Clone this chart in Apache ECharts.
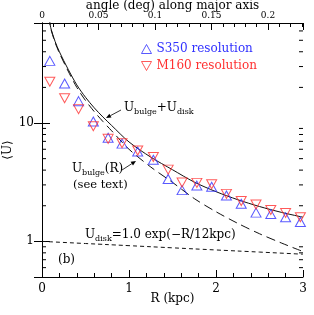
<!DOCTYPE html>
<html><head><meta charset="utf-8">
<script src="https://cdn.jsdelivr.net/npm/echarts@6/dist/echarts.min.js"></script>
<style>html,body{margin:0;padding:0;background:#fff}#c{width:314px;height:315px}</style>
</head><body><div id="c"></div>
<script>
// ---- data ----
const radius = [0.09,0.26,0.42,0.59,0.76,0.92,1.10,1.28,1.45,1.61,1.78,1.95,2.12,2.29,2.46,2.63,2.80,2.97];
const uS350  = [33.5,21.6,15.3,10.3,7.5,6.7,5.75,4.9,3.37,2.71,2.96,2.89,2.44,2.08,1.75,1.70,1.60,1.46];
const uM160  = [22.3,16.2,13.1,9.4,7.35,6.75,5.85,5.17,4.04,3.14,3.12,3.04,2.52,2.19,2.05,1.84,1.74,1.60];
const modelR = [0.08,0.09,0.10,0.15,0.20,0.30,0.40,0.50,0.60,0.70,0.80,1.00,1.25,1.50,1.75,2.00,2.25,2.50,2.75,3.00];
const uBulge = [80,70,63,48,39,27.5,20,15.5,12.5,10.3,8.6,6.0,4.25,3.15,2.3,1.78,1.42,1.16,0.97,0.82];
const uTotal = [81,71,64,49,40,28.5,21,16.5,13.45,11.25,9.54,6.92,5.15,4.03,3.17,2.63,2.25,1.97,1.76,1.60];
const diskR  = [0,0.5,1,1.5,2,2.5,3];
const uDisk  = [1.0,0.959,0.920,0.882,0.846,0.812,0.779];
const yMinorTicks = [0.6,0.7,0.8,0.9,2,3,4,5,6,7,8,9,20,30,40,50,60];
const yLabels = [1,10];
const angleLabels = [0,0.05,0.1,0.15,0.2];

const serif = 'DejaVu Serif';
const blue = '#3030ff', red = '#ff3030';
const pair = (xs, ys) => xs.map((x,i)=>[x, ys[i]]);

const chart = echarts.init(document.getElementById('c'), null, {renderer:'canvas'});

const rich = {
  m:{fontFamily:serif,fontSize:12,color:'#000',verticalAlign:'top',lineHeight:14},
  s:{fontFamily:serif,fontSize:8,color:'#000',verticalAlign:'bottom',lineHeight:10,padding:[5,0,0,0]}
};
function arrow(x1,y1,x2,y2){
  const dx=x2-x1, dy=y2-y1, L=Math.hypot(dx,dy), ux=dx/L, uy=dy/L, h=5, w=2.2;
  const bx=x2-ux*h, by=y2-uy*h;
  return [
    {type:'line',shape:{x1,y1,x2:bx,y2:by},style:{stroke:'#000',lineWidth:0.8}},
    {type:'polygon',shape:{points:[[x2,y2],[bx-uy*w,by+ux*w],[bx+uy*w,by-ux*w]]},style:{fill:'#000'}}
  ];
}

const axisCommon = {
  axisLine:{show:true,lineStyle:{color:'#000',width:1}},
  splitLine:{show:false},
  axisLabel:{color:'#000',fontFamily:serif,fontSize:12}
};
const hollow = c => ({color:'rgba(0,0,0,0)',borderColor:c,borderWidth:1});

chart.setOption({
  animation:false,
  backgroundColor:'#fff',
  grid:{left:42,right:11,top:23,bottom:38,containLabel:false,outerBoundsMode:'none'},
  legend:{
    orient:'vertical',left:136,top:38,itemWidth:10,itemHeight:9,itemGap:5,
    textStyle:{fontFamily:serif,fontSize:12},
    data:[
      {name:'S350 resolution',icon:'path://M5,0 L10,9 L0,9 Z',itemStyle:hollow(blue),textStyle:{color:blue}},
      {name:'M160 resolution',icon:'path://M0,0 L10,0 L5,9 Z',itemStyle:hollow(red),textStyle:{color:red}}
    ]
  },
  xAxis:[
    Object.assign({},axisCommon,{
      type:'value',position:'bottom',min:0,max:3,interval:1,
      axisTick:{show:true,inside:true,length:7,lineStyle:{color:'#000'}},
      minorTick:{show:true,splitNumber:5,length:4,lineStyle:{color:'#000'}},
      axisLabel:{color:'#000',fontFamily:serif,fontSize:12,margin:6},
      name:'R (kpc)',nameLocation:'middle',nameGap:16,nameMoveOverlap:false,
      nameTextStyle:{color:'#000',fontFamily:serif,fontSize:12}
    }),
    Object.assign({},axisCommon,{
      type:'value',position:'top',min:0,max:0.231,interval:0.01,
      axisTick:{show:true,inside:true,length:4,lineStyle:{color:'#000'}},
      axisLabel:{color:'#000',fontFamily:serif,fontSize:9,margin:3,showMaxLabel:false,
        formatter:v=>{const k=angleLabels.find(a=>Math.abs(a-v)<1e-6);return k===undefined?'':String(k);}},
      name:'angle (deg) along major axis',nameLocation:'middle',nameGap:11,nameMoveOverlap:false,
      nameTextStyle:{color:'#000',fontFamily:serif,fontSize:12}
    }),
    {
      type:'value',position:'top',min:0,max:0.231,interval:0.05,
      axisLine:{show:false},splitLine:{show:false},axisLabel:{show:false},
      axisTick:{show:true,inside:true,length:7,lineStyle:{color:'#000'}}
    }
  ],
  yAxis:[
    Object.assign({},axisCommon,{
      type:'log',logBase:10,position:'left',min:0.5,max:70,
      axisTick:{show:true,inside:true,length:8,lineStyle:{color:'#000'}},
      axisLabel:{color:'#000',fontFamily:serif,fontSize:12,margin:8,showMinLabel:false,showMaxLabel:false,
        formatter:v=>{const k=yLabels.find(a=>Math.abs(a-v)<1e-6*a);return k===undefined?'':String(k);}},
      name:'\u27E8U\u27E9',nameLocation:'middle',nameGap:28,nameRotate:90,nameMoveOverlap:false,
      nameTextStyle:{color:'#000',fontFamily:serif,fontSize:12}
    }),
    Object.assign({},axisCommon,{
      type:'log',logBase:10,position:'right',min:0.5,max:70,
      axisTick:{show:true,inside:true,length:8,lineStyle:{color:'#000'}},
      axisLabel:{show:false}
    })
  ],
  series:[
    {name:'S350 resolution',type:'scatter',data:pair(radius,uS350),symbol:'triangle',symbolSize:[10,9],
     itemStyle:hollow(blue),z:5},
    {name:'M160 resolution',type:'scatter',data:pair(radius,uM160),symbol:'triangle',symbolSize:[10,9],symbolRotate:180,
     itemStyle:hollow(red),z:5},
    {name:'total',type:'line',data:pair(modelR,uTotal),showSymbol:false,smooth:0.3,clip:true,
     lineStyle:{color:'#111',width:1}},
    {name:'bulge',type:'line',data:pair(modelR,uBulge),showSymbol:false,smooth:0.3,clip:true,
     lineStyle:{color:'#111',width:1,type:[9,5]}},
    {name:'disk',type:'line',data:pair(diskR,uDisk),showSymbol:false,smooth:true,clip:true,
     lineStyle:{color:'#111',width:1,type:[4,3]}},
    {name:'yminor',type:'custom',data:yMinorTicks.map(v=>[0,v]),encode:{x:0,y:1},silent:true,
     renderItem:(p,api)=>{
       const v=api.value(1), a=api.coord([0,v]), b=api.coord([3,v]);
       return {type:'group',children:[
         {type:'line',shape:{x1:a[0],y1:a[1],x2:a[0]+4,y2:a[1]},style:{stroke:'#000',lineWidth:1}},
         {type:'line',shape:{x1:b[0],y1:b[1],x2:b[0]-4,y2:b[1]},style:{stroke:'#000',lineWidth:1}}
       ]};
     }}
  ],
  graphic:[
    {type:'text',x:124,y:102,style:{text:'{m|U}{s|bulge}{m|+U}{s|disk}',rich}},
    ...arrow(121,110,106,118),
    {type:'text',x:72,y:163,style:{text:'{m|U}{s|bulge}{m|(R)}',rich}},
    {type:'text',x:73,y:179,style:{text:'(see text)',fontFamily:serif,fontSize:11.5,fill:'#000'}},
    ...arrow(122,170,136,161),
    {type:'text',x:85,y:229,style:{text:'{m|U}{s|disk}{m|=1.0 exp(\u2212R/12kpc)}',rich}},
    {type:'text',x:58,y:254,style:{text:'(b)',fontFamily:serif,fontSize:12,fill:'#000'}}
  ]
});
</script></body></html>
